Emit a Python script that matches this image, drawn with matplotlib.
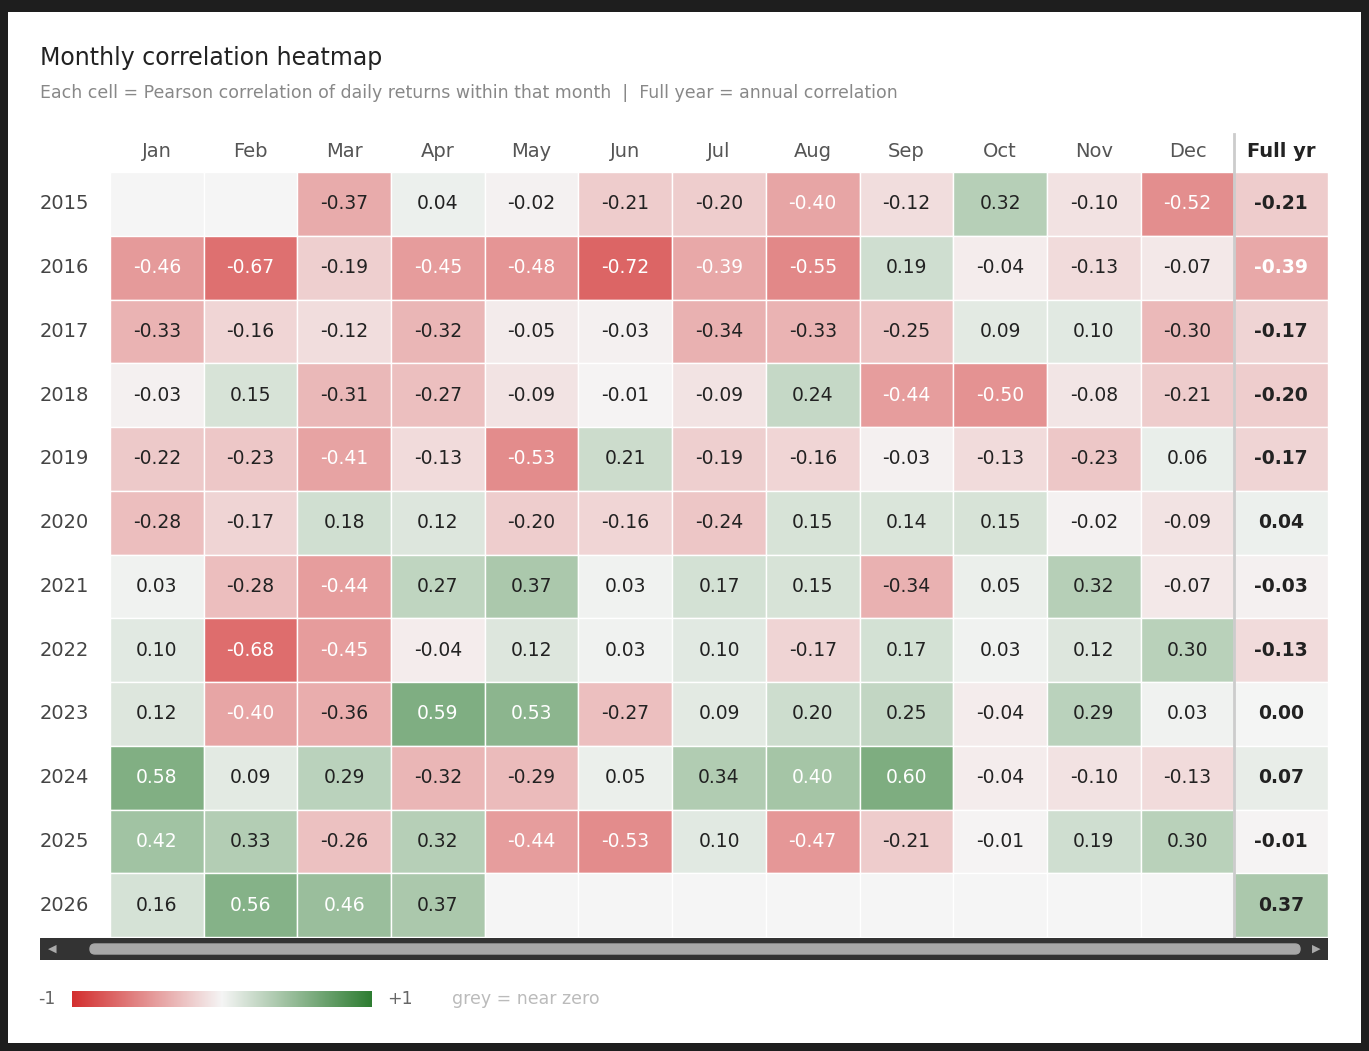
import numpy as np
import matplotlib.pyplot as plt
from matplotlib.patches import Rectangle
from matplotlib.colors import LinearSegmentedColormap

months = ["Jan", "Feb", "Mar", "Apr", "May", "Jun", "Jul", "Aug", "Sep", "Oct", "Nov", "Dec"]
years = [2015, 2016, 2017, 2018, 2019, 2020, 2021, 2022, 2023, 2024, 2025, 2026]
N = np.nan
corr = [
    [N, N, -0.37, 0.04, -0.02, -0.21, -0.20, -0.40, -0.12, 0.32, -0.10, -0.52],
    [-0.46, -0.67, -0.19, -0.45, -0.48, -0.72, -0.39, -0.55, 0.19, -0.04, -0.13, -0.07],
    [-0.33, -0.16, -0.12, -0.32, -0.05, -0.03, -0.34, -0.33, -0.25, 0.09, 0.10, -0.30],
    [-0.03, 0.15, -0.31, -0.27, -0.09, -0.01, -0.09, 0.24, -0.44, -0.50, -0.08, -0.21],
    [-0.22, -0.23, -0.41, -0.13, -0.53, 0.21, -0.19, -0.16, -0.03, -0.13, -0.23, 0.06],
    [-0.28, -0.17, 0.18, 0.12, -0.20, -0.16, -0.24, 0.15, 0.14, 0.15, -0.02, -0.09],
    [0.03, -0.28, -0.44, 0.27, 0.37, 0.03, 0.17, 0.15, -0.34, 0.05, 0.32, -0.07],
    [0.10, -0.68, -0.45, -0.04, 0.12, 0.03, 0.10, -0.17, 0.17, 0.03, 0.12, 0.30],
    [0.12, -0.40, -0.36, 0.59, 0.53, -0.27, 0.09, 0.20, 0.25, -0.04, 0.29, 0.03],
    [0.58, 0.09, 0.29, -0.32, -0.29, 0.05, 0.34, 0.40, 0.60, -0.04, -0.10, -0.13],
    [0.42, 0.33, -0.26, 0.32, -0.44, -0.53, 0.10, -0.47, -0.21, -0.01, 0.19, 0.30],
    [0.16, 0.56, 0.46, 0.37, N, N, N, N, N, N, N, N],
]
full_year = [-0.21, -0.39, -0.17, -0.20, -0.17, 0.04, -0.03, -0.13, 0.00, 0.07, -0.01, 0.37]

cmap = LinearSegmentedColormap.from_list("rg", ["#d32f2f", "#f5f5f5", "#2e7d32"])
empty = "#f5f5f5"

W, H = 1369, 1051
fig = plt.figure(figsize=(W / 100, H / 100), dpi=100)
fig.patch.set_facecolor("#1e1e1e")
card = fig.add_axes([8 / W, 8 / H, 1 - 16 / W, 1 - 20 / H])
card.set_axis_off()
card.add_patch(Rectangle((0, 0), 1, 1, transform=card.transAxes, color="white"))

fig.text(40 / W, 1 - 58 / H, "Monthly correlation heatmap", fontsize=17, color="#222", va="center")
fig.text(40 / W, 1 - 93 / H,
         "Each cell = Pearson correlation of daily returns within that month  |  Full year = annual correlation",
         fontsize=12.5, color="#888", va="center")

x0, x1, y0, y1 = 110, 1328, 172, 937
ax = fig.add_axes([x0 / W, 1 - y1 / H, (x1 - x0) / W, (y1 - y0) / H])
ax.set_xlim(0, 13)
ax.set_ylim(len(years), 0)
ax.set_axis_off()

def draw(c, r, v, bold=False):
    face = empty if np.isnan(v) else cmap((v + 1) / 2)
    ax.add_patch(Rectangle((c, r), 1, 1, facecolor=face, edgecolor="white", lw=1))
    if not np.isnan(v):
        col = "white" if abs(v) >= 0.38 and not bold else "#222"
        if bold and abs(v) >= 0.38:
            col = "white"
        ax.text(c + 0.5, r + 0.5, f"{v:.2f}", ha="center", va="center", fontsize=13.5,
                color=col, fontweight="bold" if bold else "normal")

for r, row in enumerate(corr):
    for c, v in enumerate(row):
        draw(c, r, v)
    draw(12, r, full_year[r], bold=True)
    ax.text(-0.75, r + 0.5, str(years[r]), ha="left", va="center", fontsize=14, color="#444",
            clip_on=False)
ax.plot([12, 12], [-0.6, len(years)], color="#ccc", lw=2, clip_on=False)

for c, m in enumerate(months + ["Full yr"]):
    ax.text(c + 0.5, -0.32, m, ha="center", va="center", fontsize=14,
            color="#222" if c == 12 else "#555", fontweight="bold" if c == 12 else "normal",
            clip_on=False)

# scrollbar
sb = fig.add_axes([40 / W, 1 - 960 / H, 1288 / W, 22 / H])
sb.set_axis_off()
sb.set_xlim(0, 1288); sb.set_ylim(0, 22)
sb.add_patch(Rectangle((0, 0), 1288, 22, color="#333"))
sb.add_patch(plt.matplotlib.patches.FancyBboxPatch((50, 6), 1210, 10, boxstyle="round,pad=0,rounding_size=5",
                                                   color="#a8a8a8"))
sb.text(12, 11, "◀", color="#aaa", fontsize=8, ha="center", va="center")
sb.text(1276, 11, "▶", color="#aaa", fontsize=8, ha="center", va="center")

# legend
lg = fig.add_axes([72 / W, 1 - 1007 / H, 300 / W, 16 / H])
lg.imshow(np.linspace(0, 1, 256)[None, :], cmap=cmap, aspect="auto", extent=[0, 1, 0, 1])
lg.set_axis_off()
fig.text(38 / W, 1 - 999 / H, "-1", fontsize=12.5, color="#666", va="center")
fig.text(387 / W, 1 - 999 / H, "+1", fontsize=12.5, color="#666", va="center")
fig.text(452 / W, 1 - 999 / H, "grey = near zero", fontsize=12.5, color="#bbb", va="center")

fig.savefig("out.png", dpi=100, facecolor=fig.get_facecolor())
